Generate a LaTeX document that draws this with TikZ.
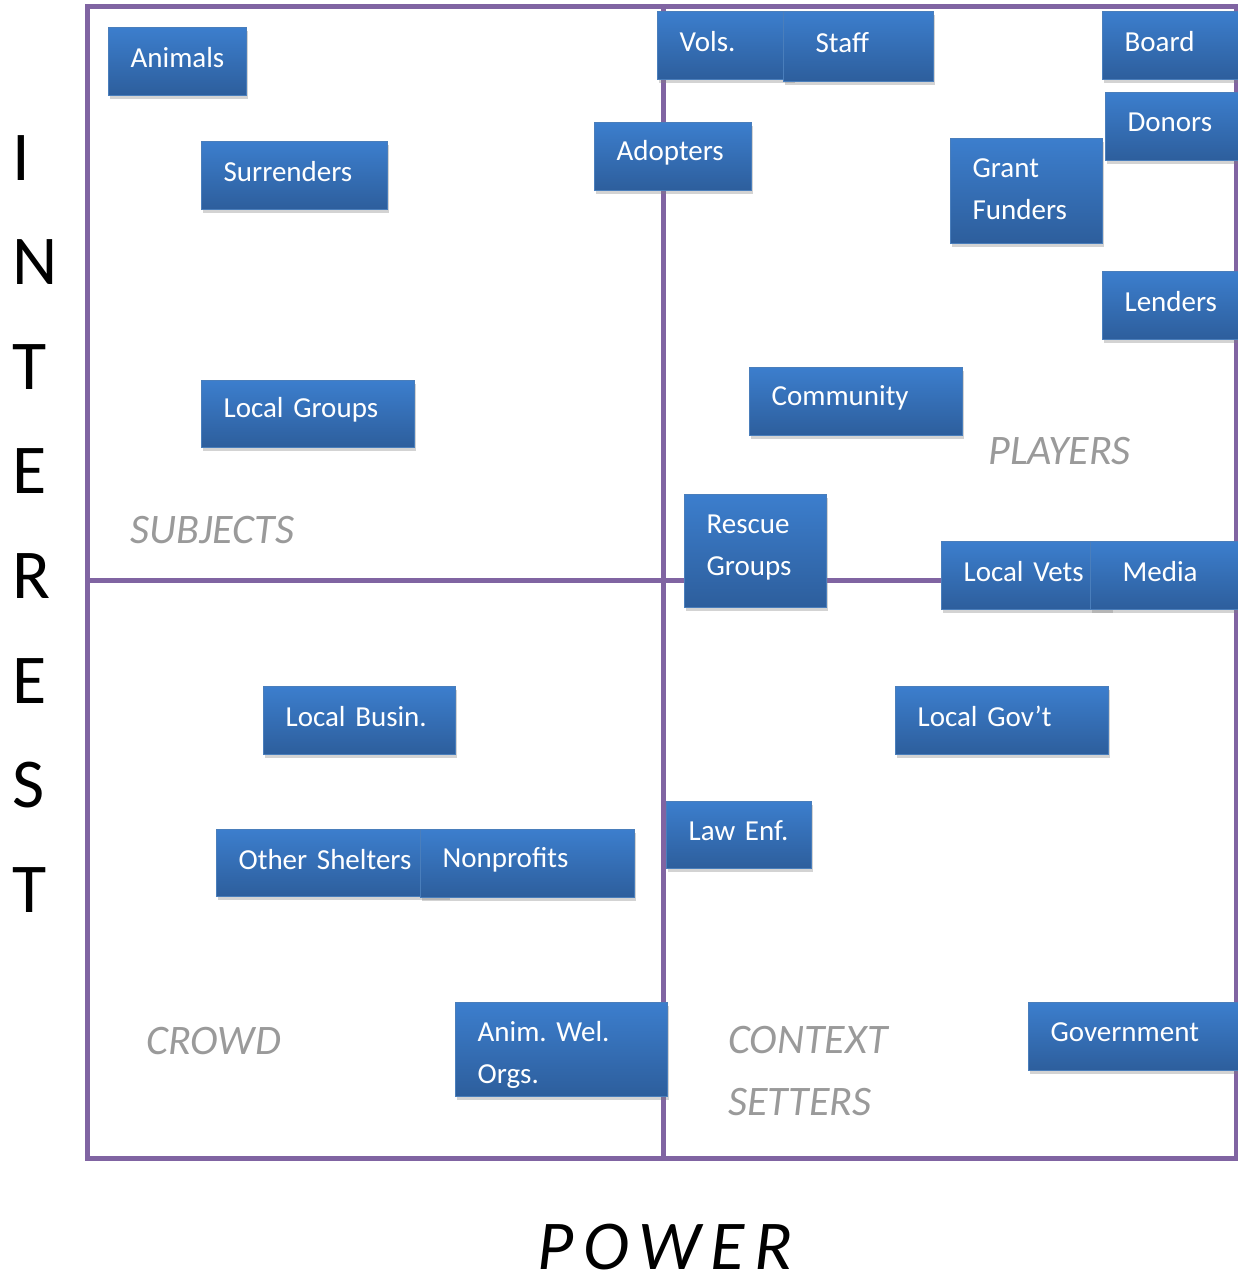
\documentclass[tikz,border=0pt]{standalone}
\usepackage{fontspec}
\setmainfont{Carlito}
\usetikzlibrary{shadows}
\hyphenpenalty=10000
\exhyphenpenalty=10000
\definecolor{gridpurple}{HTML}{8064A2}
\definecolor{boxtop}{HTML}{3C7ECD}
\definecolor{boxbottom}{HTML}{2D5E9C}
\definecolor{boxline}{HTML}{4A7EBB}
\definecolor{quadgray}{HTML}{9A9A9A}
\tikzset{
  stakebox/.style 2 args={draw=boxline, line width=0.6pt,
    top color=boxtop, bottom color=boxbottom,
    drop shadow={shadow xshift=0.8pt, shadow yshift=-1.6pt, opacity=0.35},
    text=white, font=\fontsize{14.5}{21}\selectfont,
    align=left, inner xsep=11pt, inner ysep=0pt, anchor=north west,
    /utils/exec={\pgfmathsetlengthmacro\stakew{#1*0.5pt-22pt}\pgfmathsetlengthmacro\stakeh{#2*0.5pt}\def\stakelift{4pt}},
    text width=\stakew, minimum height=\stakeh,
    execute at end node={\par\kern\stakelift}},
  lift/.style={/utils/exec={\def\stakelift{#1}}},
  widebox/.style={inner xsep=16pt, text width=43pt},
  quadlabel/.style={text=quadgray, font=\fontsize{21}{31}\selectfont\itshape,
    align=left, anchor=base west, inner sep=0pt},
  axislabel/.style={font=\fontsize{35}{42}\selectfont, inner sep=0pt, anchor=base west}
}

\begin{document}
\begin{tikzpicture}[x=0.5pt, y=-0.5pt]
    \useasboundingbox (0,0) rectangle (1238,1281);

    % Kuadran
    \draw[gridpurple, line width=2.5pt] (87,6) rectangle (1236,1158);
    \draw[gridpurple, line width=2.5pt] (663,6) -- (663,1158);
    \draw[gridpurple, line width=2.5pt] (87,580) -- (1236,580);

    % Label kuadran
    \node[quadlabel] (subjects) at (130,543) {SUBJECTS};
    \node[quadlabel] (players) at (988,464) {PLAYERS};
    \node[quadlabel] (crowd) at (146,1054) {CROWD};
    \node[quadlabel] (contextsetters) at (728,1115) {CONTEXT\\SETTERS};

    % Kotak kiri atas
    \node[stakebox={138}{68}] (animals) at (108,27) {Animals};
    \node[stakebox={186}{68}] (surrenders) at (201,141) {Surrenders};
    \node[stakebox={213}{67}] (localgroups) at (201,380) {Local~Groups};

    % Kotak kanan atas
    \node[stakebox={136}{68}] (vols) at (657,11) {Vols.};
    \node[stakebox={150}{70}, widebox] (staff) at (783,11) {Staff};
    \node[stakebox={157}{68}] (adopters) at (594,122) {Adopters};
    \node[stakebox={146}{68}] (board) at (1102,11) {Board};
    \node[stakebox={143}{68}] (donors) at (1105,92) {Donors};
    \node[stakebox={152}{105}, lift=2pt] (grantfunders) at (950,138) {Grant\\Funders};
    \node[stakebox={146}{68}] (lenders) at (1102,271) {Lenders};
    \node[stakebox={213}{68}] (community) at (749,367) {Community};
    \node[stakebox={142}{113}] (rescuegroups) at (684,494) {Rescue\\Groups};
    \node[stakebox={170}{68}] (localvets) at (941,541) {Local~Vets};
    \node[stakebox={154}{68}, widebox] (media) at (1090,541) {Media};

    % Kotak bawah
    \node[stakebox={192}{68}] (localbusin) at (263,686) {Local~Busin.};
    \node[stakebox={213}{68}] (localgov) at (895,686) {Local~Gov’t};
    \node[stakebox={232}{67}] (othershelters) at (216,829) {Other~Shelters};
    \node[stakebox={214}{68}] (nonprofits) at (420,829) {Nonprofits};
    \node[stakebox={145}{67}] (lawenf) at (666,801) {Law~Enf.};
    \node[stakebox={212}{94}, lift=-5pt] (animwel) at (455,1002) {Anim.~Wel.\\Orgs.};
    \node[stakebox={218}{68}] (government) at (1028,1002) {Government};

    % Sumbu
    \foreach \ch [count=\i from 0] in {I,N,T,E,R,E,S,T}
        \node[axislabel] (interest\i) at (12,180+104.6*\i) {\ch};
    \node[axislabel, text depth=0pt, font=\fontsize{35}{42}\selectfont\itshape\addfontfeatures{LetterSpace=14}] (power) at (537,1269) {POWER};
\end{tikzpicture}
\end{document}
